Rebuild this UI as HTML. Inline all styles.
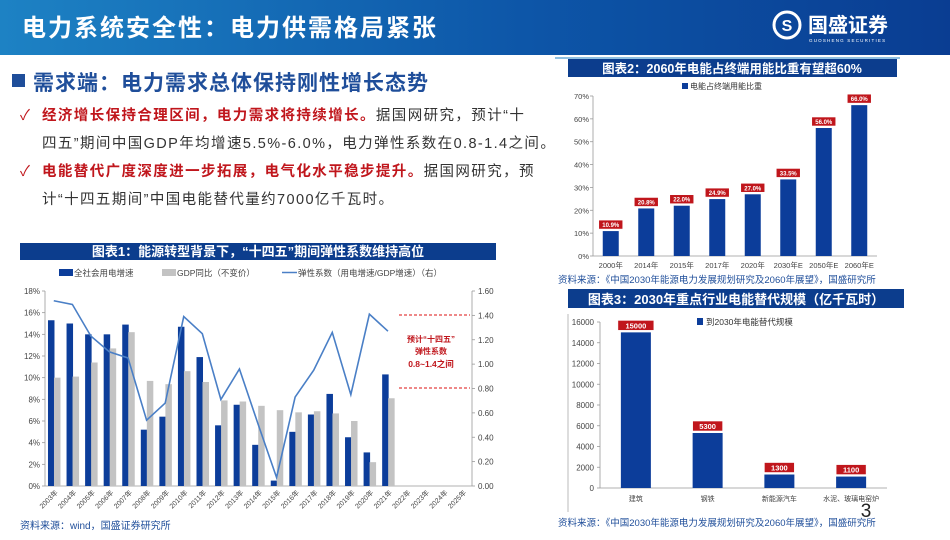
<!DOCTYPE html>
<html><head><meta charset="utf-8">
<style>
html,body{margin:0;padding:0;background:#fff;}
body{width:950px;height:535px;overflow:hidden;position:relative;font-family:"Liberation Sans","Noto Sans CJK SC",sans-serif;}
svg text{font-family:"Liberation Sans","Noto Sans CJK SC",sans-serif;}
</style></head>
<body>
<svg id="s" width="950" height="535" viewBox="0 0 950 535" xmlns="http://www.w3.org/2000/svg">
<defs>
<linearGradient id="hg" x1="0" x2="1" y1="0" y2="0">
<stop offset="0" stop-color="#1d82c4"/><stop offset="0.55" stop-color="#0d56a8"/><stop offset="1" stop-color="#0a3d92"/>
</linearGradient>
</defs>
<g>
<rect x="0" y="0" width="950" height="55" fill="url(#hg)"/>
<text x="22" y="36" fill="#fff" font-size="24" font-weight="bold" letter-spacing="2">电力系统安全性：电力供需格局紧张</text>
<g>
<circle cx="787" cy="25" r="13" fill="none" stroke="#fff" stroke-width="3"/>
<text x="787" y="31" fill="#fff" font-size="16" font-weight="bold" text-anchor="middle">S</text>
<text x="808" y="32" fill="#fff" font-size="20" font-weight="bold">国盛证券</text>
<text x="809" y="42" fill="#fff" font-size="4.5" letter-spacing="1.2">GUOSHENG SECURITIES</text>
</g>
</g>
<line x1="555" y1="58" x2="900" y2="58" stroke="#1d82c4" stroke-width="1"/>
<rect x="12" y="74" width="13" height="13" fill="#1f4e9a"/>
<text x="33" y="90" fill="#1f4e9a" font-size="21" font-weight="bold" letter-spacing="1">需求端：电力需求总体保持刚性增长态势</text>
<g font-size="14.5" letter-spacing="1.4">
<text x="20" y="120" fill="#c0161c">✓</text>
<text x="42" y="120"><tspan fill="#c0161c" font-weight="bold">经济增长保持合理区间，电力需求将持续增长。</tspan><tspan fill="#333">据国网研究，预计“十</tspan></text>
<text x="42" y="148" fill="#333">四五”期间中国GDP年均增速5.5%-6.0%，电力弹性系数在0.8-1.4之间。</text>
<text x="20" y="176" fill="#c0161c">✓</text>
<text x="42" y="176"><tspan fill="#c0161c" font-weight="bold">电能替代广度深度进一步拓展，电气化水平稳步提升。</tspan><tspan fill="#333">据国网研究，预</tspan></text>
<text x="42" y="204" fill="#333">计“十四五期间”中国电能替代量约7000亿千瓦时。</text>
</g>

<!-- Chart 1 -->
<g id="c1">
<rect x="20" y="243" width="476" height="17" fill="#0c3d8d"/>
<text x="258" y="256" fill="#fff" font-size="13" font-weight="bold" text-anchor="middle">图表1：能源转型背景下，“十四五”期间弹性系数维持高位</text>
<g font-size="8.5" fill="#444">
<rect x="59" y="269" width="14" height="7" fill="#0c3d9a"/><text x="74" y="276">全社会用电增速</text>
<rect x="162" y="269" width="14" height="7" fill="#c3c3c3"/><text x="177" y="276">GDP同比（不变价）</text>
<line x1="282" y1="272.5" x2="297" y2="272.5" stroke="#4a7fc6" stroke-width="1.5"/><text x="298" y="276">弹性系数（用电增速/GDP增速）（右）</text>
</g>
<g id="c1marks"></g>
<line x1="399" y1="315" x2="470" y2="315" stroke="#d11" stroke-width="1" stroke-dasharray="3,2"/>
<line x1="399" y1="388" x2="470" y2="388" stroke="#d11" stroke-width="1" stroke-dasharray="3,2"/>
<g fill="#c0161c" font-size="8" font-weight="bold" text-anchor="middle">
<text x="431" y="342">预计“十四五”</text><text x="431" y="354">弹性系数</text><text x="431" y="367" font-size="8.5">0.8~1.4之间</text>
</g>
<text x="20" y="529" fill="#1f4e9a" font-size="10">资料来源：wind，国盛证券研究所</text>
</g>

<!-- Chart 2 -->
<g id="c2">
<rect x="568" y="59" width="329" height="18" fill="#0c3d8d"/>
<text x="732" y="73" fill="#fff" font-size="12.5" font-weight="bold" text-anchor="middle">图表2：2060年电能占终端用能比重有望超60%</text>
<rect x="682" y="83" width="6" height="6" fill="#0c3d9a"/><text x="690" y="89" font-size="8" fill="#333">电能占终端用能比重</text>
<g id="c2marks"></g>
<text x="558" y="283" fill="#1f4e9a" font-size="9.5">资料来源：《中国2030年能源电力发展规划研究及2060年展望》，国盛研究所</text>
</g>

<!-- Chart 3 -->
<g id="c3">
<rect x="568" y="289" width="336" height="19" fill="#0c3d8d"/>
<text x="736" y="304" fill="#fff" font-size="13" font-weight="bold" text-anchor="middle">图表3：2030年重点行业电能替代规模（亿千瓦时）</text>
<line x1="568" y1="314" x2="568" y2="512" stroke="#aaa" stroke-width="0.8"/>
<rect x="697" y="318" width="6" height="7" fill="#0c3d9a"/><text x="706" y="325" font-size="8.5" fill="#333">到2030年电能替代规模</text>
<g id="c3marks"></g>
<text x="866" y="517" font-size="19" fill="#222" text-anchor="middle">3</text>
<text x="558" y="526" fill="#1f4e9a" font-size="9.5">资料来源：《中国2030年能源电力发展规划研究及2060年展望》，国盛研究所</text>
</g>
</svg>
<script>
const years1 = ["2003年","2004年","2005年","2006年","2007年","2008年","2009年","2010年","2011年","2012年","2013年","2014年","2015年","2016年","2017年","2018年","2019年","2020年","2021年","2022年","2023年","2024年","2025年"];
const power1 = [15.3,15.0,14.0,14.0,14.9,5.2,6.4,14.7,11.9,5.6,7.5,3.8,0.5,5.0,6.6,8.5,4.5,3.1,10.3];
const gdp1 = [10.0,10.1,11.4,12.7,14.2,9.7,9.4,10.6,9.6,7.9,7.8,7.4,7.0,6.8,6.9,6.7,6.0,2.2,8.1];
const elast1 = [1.52,1.49,1.23,1.10,1.05,0.54,0.68,1.39,1.25,0.71,0.96,0.51,0.07,0.73,0.95,1.26,0.75,1.41,1.27];
const leftTicks1 = [0,2,4,6,8,10,12,14,16,18];
const rightTicks1 = [0,0.2,0.4,0.6,0.8,1.0,1.2,1.4,1.6];

const cats2 = ["2000年","2014年","2015年","2017年","2020年","2030年E","2050年E","2060年E"];
const vals2 = [10.9,20.8,22.0,24.9,27.0,33.5,56.0,66.0];
const labels2 = ["10.9%","20.8%","22.0%","24.9%","27.0%","33.5%","56.0%","66.0%"];
const ticks2 = [0,10,20,30,40,50,60,70];

const cats3 = ["建筑","钢铁","新能源汽车","水泥、玻璃电窑炉"];
const vals3 = [15000,5300,1300,1100];
const ticks3 = [0,2000,4000,6000,8000,10000,12000,14000,16000];

const NS = "http://www.w3.org/2000/svg";
function mk(parent, tag, attrs, txt){const e=document.createElementNS(NS,tag);for(const k in attrs)e.setAttribute(k,attrs[k]);if(txt!==undefined)e.textContent=txt;parent.appendChild(e);return e;}

(function(){
const g=document.getElementById('c1marks');
const x0=45,x1=472,yTop=291,yBot=486;
const slot=(x1-x0)/years1.length;
const cx=i=>x0+slot*(i+0.5);
const yL=v=>yBot-(v/18)*(yBot-yTop);
const yR=v=>yBot-(v/1.6)*(yBot-yTop);
mk(g,'line',{x1:x0,y1:yTop,x2:x0,y2:yBot,stroke:'#999','stroke-width':0.8});
mk(g,'line',{x1:x1,y1:yTop,x2:x1,y2:yBot,stroke:'#999','stroke-width':0.8});
mk(g,'line',{x1:x0,y1:yBot,x2:x1,y2:yBot,stroke:'#999','stroke-width':0.8});
leftTicks1.forEach(t=>{const y=yL(t);
 mk(g,'line',{x1:x0-3,y1:y,x2:x0,y2:y,stroke:'#999','stroke-width':0.8});
 const e=mk(g,'text',{x:x0-5,y:y+3,'font-size':8,fill:'#444','text-anchor':'end'},t+'%');
 
 });
rightTicks1.forEach(t=>{const y=yR(t);
 mk(g,'line',{x1:x1,y1:y,x2:x1+3,y2:y,stroke:'#999','stroke-width':0.8});
 const e=mk(g,'text',{x:x1+6,y:y+3,'font-size':8,fill:'#444'},t.toFixed(2));
 
 });
years1.forEach((yr,i)=>{const c=cx(i);
 const e=mk(g,'text',{x:c+4,y:yBot+7,'font-size':7,fill:'#444','text-anchor':'end',transform:`rotate(-45 ${c+4} ${yBot+7})`},yr);
 
 });
const bw=6.5;
power1.forEach((v,i)=>{const c=cx(i)+0.2;
 const r=mk(g,'rect',{x:c-bw,y:yL(v),width:bw,height:yBot-yL(v),fill:'#0c3d9a'});
 
 });
gdp1.forEach((v,i)=>{const c=cx(i)+0.2;
 const r=mk(g,'rect',{x:c-0.5,y:yL(v),width:bw,height:yBot-yL(v),fill:'#c3c3c3'});
 
 });
const pts=elast1.map((v,i)=>`${cx(i)-0.5},${yR(v)}`).join(' ');
const pl=mk(g,'polyline',{points:pts,fill:'none',stroke:'#4a7fc6','stroke-width':1.6});


})();

(function(){
const g=document.getElementById('c2marks');
const x0=593,x1=877,yTop=96,yBot=256;
const slot=(x1-x0)/cats2.length;
const cx=i=>x0+slot*(i+0.5);
const y=v=>yBot-(v/70)*(yBot-yTop);
mk(g,'line',{x1:x0,y1:yTop,x2:x0,y2:yBot,stroke:'#999','stroke-width':0.8});
mk(g,'line',{x1:x0,y1:yBot,x2:x1,y2:yBot,stroke:'#999','stroke-width':0.8});
ticks2.forEach(t=>{const yy=y(t);
 mk(g,'line',{x1:x0-3,y1:yy,x2:x0,y2:yy,stroke:'#999','stroke-width':0.8});
 const e=mk(g,'text',{x:x0-4,y:yy+3,'font-size':7.5,fill:'#444','text-anchor':'end'},t+'%');
 
 });
cats2.forEach((c,i)=>{
 const e=mk(g,'text',{x:cx(i),y:268,'font-size':7.5,fill:'#444','text-anchor':'middle'},c);
 
 });
vals2.forEach((v,i)=>{const c=cx(i);
 const r=mk(g,'rect',{x:c-8,y:y(v),width:16,height:yBot-y(v),fill:'#0c3d9a'});
 
 
 const b=mk(g,'rect',{x:c-12,y:y(v)-11,width:24,height:9,fill:'#c0161c',stroke:'#fff','stroke-width':0.6});
 
 
 const t=mk(g,'text',{x:c,y:y(v)-4,'font-size':6,fill:'#fff','font-weight':'bold','text-anchor':'middle'},labels2[i]);
 
 });
})();

(function(){
const g=document.getElementById('c3marks');
const x0=600,x1=887,yTop=322,yBot=488;
const slot=(x1-x0)/cats3.length;
const cx=i=>x0+slot*(i+0.5);
const y=v=>yBot-(v/16000)*(yBot-yTop);
mk(g,'line',{x1:x0,y1:yTop,x2:x0,y2:yBot,stroke:'#999','stroke-width':0.8});
mk(g,'line',{x1:x0,y1:yBot,x2:x1,y2:yBot,stroke:'#999','stroke-width':0.8});
ticks3.forEach(t=>{const yy=y(t);
 mk(g,'line',{x1:x0-3,y1:yy,x2:x0,y2:yy,stroke:'#999','stroke-width':0.8});
 const e=mk(g,'text',{x:x0-6,y:yy+3,'font-size':8,fill:'#444','text-anchor':'end'},String(t));
 
 });
cats3.forEach((c,i)=>{
 const e=mk(g,'text',{x:cx(i),y:501,'font-size':7,fill:'#444','text-anchor':'middle'},c);
 
 });
vals3.forEach((v,i)=>{const c=cx(i);
 const r=mk(g,'rect',{x:c-15,y:y(v),width:30,height:yBot-y(v),fill:'#0c3d9a'});
 
 
 const w=String(v).length*6+6;
 const b=mk(g,'rect',{x:c-w/2,y:y(v)-12,width:w,height:10,fill:'#c0161c',stroke:'#fff','stroke-width':0.6});
 
 
 const t=mk(g,'text',{x:c,y:y(v)-4,'font-size':7.5,fill:'#fff','font-weight':'bold','text-anchor':'middle'},String(v));
 
 });
})();
</script>
</body></html>
